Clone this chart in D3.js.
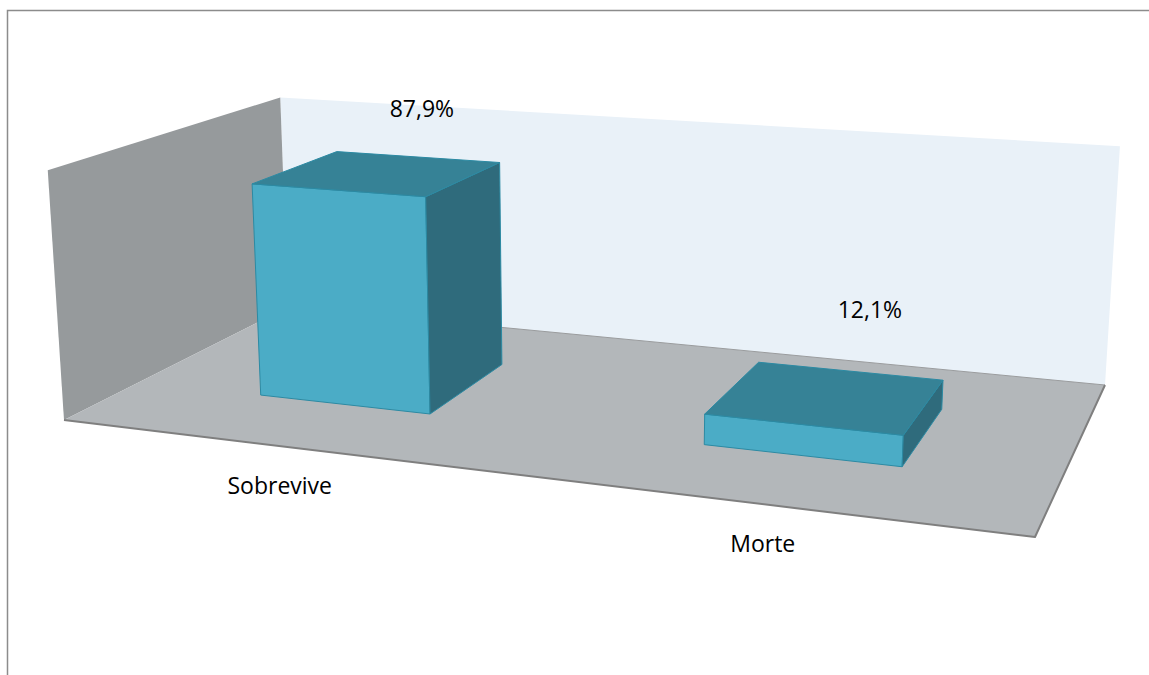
<!DOCTYPE html>
<html>
<head>
<meta charset="utf-8">
<script src="https://cdn.jsdelivr.net/npm/d3@7"></script>
<style>
  html, body { margin: 0; padding: 0; background: #ffffff; }
  text { font-family: "Open Sans", "Liberation Sans", sans-serif; fill: #000; }
</style>
</head>
<body>
<svg id="chart" width="1149" height="675"></svg>
<script>
// ---- data ----
const categories  = ["Sobrevive", "Morte"];
const values      = [87.9, 12.1];
const valueLabels = ["87,9%", "12,1%"];
const axisDomain  = [0, 100];

// ---- view: where the floor corners and wall tops of the 3D box land on screen ----
const view = {
  floor: { frontLeft: [64, 420], frontRight: [1035, 537], backRight: [1105, 385], backLeft: [288, 307] },
  tops:  [ { x: 0, z: 0, p: [48, 170] }, { x: 0, z: 1, p: [280, 97] }, { x: 1, z: 1, p: [1120, 147] } ]
};

const colors = {
  backWall: "#E9F1F8", sideWall: "#969A9C", floor: "#B3B7BA", floorEdge: "#7F7F7F",
  barFront: "#4BACC6", barTop: "#368296", barSide: "#2F6B7C", barEdge: "#2C8AA3", border: "#8C8C8C"
};

const svg = d3.select("#chart");

// scales in world units: x across the floor, y for the value, z for depth
const x = d3.scaleBand().domain(categories).range([0, 1]).paddingInner(0.6).paddingOuter(0.3);
const y = d3.scaleLinear().domain(axisDomain).range([0, 1]);
const barDepth = [0.3, 0.7];

// floor homography (unit square -> quad), Heckbert's formulation
function squareToQuad(p0, p1, p2, p3) {
  const [x0, y0] = p0, [x1, y1] = p1, [x2, y2] = p2, [x3, y3] = p3;
  const dx1 = x1 - x2, dx2 = x3 - x2, dx3 = x0 - x1 + x2 - x3;
  const dy1 = y1 - y2, dy2 = y3 - y2, dy3 = y0 - y1 + y2 - y3;
  const den = dx1 * dy2 - dx2 * dy1;
  const g = (dx3 * dy2 - dx2 * dy3) / den;
  const h = (dx1 * dy3 - dx3 * dy1) / den;
  return [
    [x1 - x0 + g * x1, x3 - x0 + h * x3, x0],
    [y1 - y0 + g * y1, y3 - y0 + h * y3, y0],
    [g, h, 1]
  ];
}
const F = view.floor;
const Hm = squareToQuad(F.frontLeft, F.frontRight, F.backRight, F.backLeft);
const floorH = (X, Z) => [Hm[0][0] * X + Hm[0][1] * Z + Hm[0][2],
                          Hm[1][0] * X + Hm[1][1] * Z + Hm[1][2],
                          Hm[2][0] * X + Hm[2][1] * Z + Hm[2][2]];

// vertical column of the projection matrix, least squares over the wall tops
function solve3(A, b) {
  const det = m => m[0][0] * (m[1][1] * m[2][2] - m[1][2] * m[2][1])
                 - m[0][1] * (m[1][0] * m[2][2] - m[1][2] * m[2][0])
                 + m[0][2] * (m[1][0] * m[2][1] - m[1][1] * m[2][0]);
  const D = det(A);
  return [0, 1, 2].map(c => det(A.map((row, r) => row.map((v, k) => (k === c ? b[r] : v)))) / D);
}
const rows = [], rhs = [];
view.tops.forEach(t => {
  const q = floorH(t.x, t.z), [u, v] = t.p;
  rows.push([1, 0, -u]); rhs.push(u * q[2] - q[0]);
  rows.push([0, 1, -v]); rhs.push(v * q[2] - q[1]);
});
const AtA = [0, 1, 2].map(i => [0, 1, 2].map(j => d3.sum(rows, r => r[i] * r[j])));
const Atb = [0, 1, 2].map(i => d3.sum(rows, (r, k) => r[i] * rhs[k]));
const vert = solve3(AtA, Atb);

function project(X, Y, Z) {
  const q = floorH(X, Z);
  const w = q[2] + Y * vert[2];
  return [(q[0] + Y * vert[0]) / w, (q[1] + Y * vert[1]) / w];
}
const line = d3.line();
const poly = pts => line(pts) + "Z";

// ---- chart border ----
svg.append("rect")
  .attr("x", 7.5).attr("y", 10.5).attr("width", 1200).attr("height", 720)
  .attr("fill", "none").attr("stroke", colors.border).attr("stroke-width", 1.5);

// ---- walls and floor ----
const g = svg.append("g");
g.append("path")
  .attr("d", poly([project(0, 0, 1), project(1, 0, 1), project(1, 1, 1), project(0, 1, 1)]))
  .attr("fill", colors.backWall);
g.append("path")
  .attr("d", poly([project(0, 0, 0), project(0, 0, 1), project(0, 1, 1), project(0, 1, 0)]))
  .attr("fill", colors.sideWall);
g.append("path")
  .attr("d", poly([project(0, 0, 0), project(1, 0, 0), project(1, 0, 1), project(0, 0, 1)]))
  .attr("fill", colors.floor);
g.append("path")
  .attr("d", line([project(0, 0, 1), project(1, 0, 1)]))
  .attr("fill", "none").attr("stroke", "#9a9c9e").attr("stroke-width", 1);
g.append("path")
  .attr("d", line([project(0, 0, 0), project(1, 0, 0), project(1, 0, 1)]))
  .attr("fill", "none").attr("stroke", colors.floorEdge).attr("stroke-width", 2)
  .attr("stroke-linejoin", "round");

// ---- bars as boxes, only faces turned toward the viewer ----
const faces = [
  { key: "front",  idx: [[0,0,0],[0,1,0],[1,1,0],[1,0,0]], fill: colors.barFront },
  { key: "back",   idx: [[0,0,1],[1,0,1],[1,1,1],[0,1,1]], fill: colors.barSide },
  { key: "left",   idx: [[0,0,0],[0,0,1],[0,1,1],[0,1,0]], fill: colors.barSide },
  { key: "right",  idx: [[1,0,0],[1,1,0],[1,1,1],[1,0,1]], fill: colors.barSide },
  { key: "bottom", idx: [[0,0,0],[1,0,0],[1,0,1],[0,0,1]], fill: colors.barTop },
  { key: "top",    idx: [[0,1,0],[0,1,1],[1,1,1],[1,1,0]], fill: colors.barTop }
];
const area = pts => d3.polygonArea(pts);

const bars = categories.map((c, i) => ({ cat: c, value: values[i], label: valueLabels[i] }));
const mid = d => x(d.cat) + x.bandwidth() / 2;

const barG = svg.append("g").selectAll("g").data(bars).join("g");
barG.each(function (d) {
  const xs = [x(d.cat), x(d.cat) + x.bandwidth()];
  const ys = [y(0), y(d.value)];
  const zs = barDepth;
  const pts = faces.map(f => f.idx.map(([i, j, k]) => project(xs[i], ys[j], zs[k])));
  const ref = Math.sign(area(pts[0]));
  const sel = d3.select(this);
  faces.forEach((f, n) => {
    if (Math.sign(area(pts[n])) !== ref) return;
    sel.append("path")
      .attr("d", poly(pts[n]))
      .attr("fill", f.fill)
      .attr("stroke", colors.barEdge).attr("stroke-width", 1)
      .attr("stroke-linejoin", "round");
  });
});

// ---- value labels above the bars ----
svg.append("g").selectAll("text").data(bars).join("text")
  .attr("text-anchor", "middle")
  .attr("font-size", 23)
  .attr("x", d => project(mid(d), y(d.value), (barDepth[0] + barDepth[1]) / 2)[0] + 43)
  .attr("y", d => project(mid(d), y(d.value), 1)[1] - 18)
  .text(d => d.label);

// ---- category labels in front of the floor ----
svg.append("g").selectAll("text").data(categories).join("text")
  .attr("text-anchor", "middle")
  .attr("font-size", 23)
  .attr("x", d => project(x(d) + x.bandwidth() / 2, 0, 0)[0] + 2)
  .attr("y", d => project(x(d) + x.bandwidth() / 2, 0, 0)[1] + 48)
  .text(d => d);
</script>
</body>
</html>
